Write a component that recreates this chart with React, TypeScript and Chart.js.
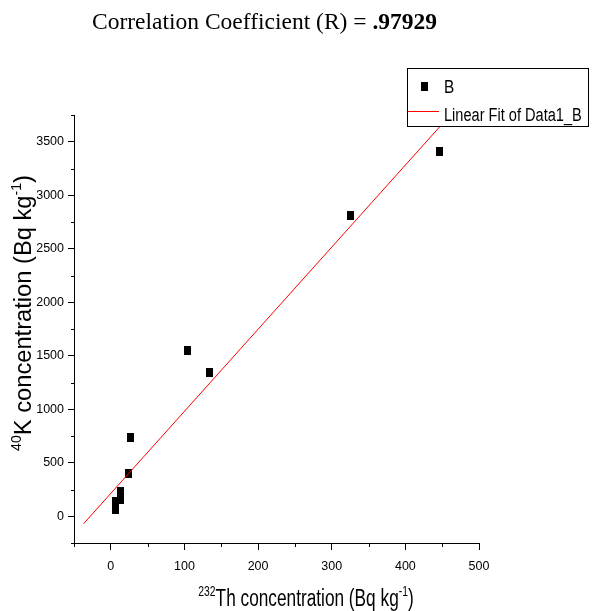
import React, { useEffect, useRef } from 'react';
import { Chart, registerables } from 'chart.js';

Chart.register(...registerables);

// ---- data ----
const thConcentration = [446.7, 326, 103.9, 133.7, 27.1, 23.5, 12.6, 13.6, 5.8, 5.8];
const kConcentration = [3412, 2811, 1549, 1346, 738, 396, 234, 156, 140, 63];
const fitX = [-37, 461];
const fitY = [-70, 3750];
const xMajorTicks = [0, 100, 200, 300, 400, 500];
const xMinorTicks = [-50, 50, 150, 250, 350, 450];
const yMajorTicks = [0, 500, 1000, 1500, 2000, 2500, 3000, 3500];
const yMinorTicks = [-250, 250, 750, 1250, 1750, 2250, 2750, 3250, 3750];
const titleMain = 'Correlation Coefficient (R) = ';
const titleValue = '.97929';
const seriesLabel = 'B';
const fitLabel = 'Linear Fit of Data1_B';

const SANS = "'Liberation Sans', Arial, sans-serif";
const SERIF = "'Liberation Serif', 'Times New Roman', serif";

type Run = { t: string; sup?: boolean; bold?: boolean };

function runsWidth(ctx: CanvasRenderingContext2D, runs: Run[], size: number, family: string) {
  let w = 0;
  for (const r of runs) {
    const s = r.sup ? size * 0.6 : size;
    ctx.font = `${r.bold ? 'bold ' : ''}${s}px ${family}`;
    w += ctx.measureText(r.t).width;
  }
  return w;
}

function drawRuns(
  ctx: CanvasRenderingContext2D,
  runs: Run[],
  x: number,
  y: number,
  size: number,
  family: string,
  scaleX: number,
  align: 'left' | 'center'
) {
  ctx.save();
  ctx.translate(x, y);
  ctx.scale(scaleX, 1);
  const total = runsWidth(ctx, runs, size, family);
  let cx = align === 'center' ? -total / 2 : 0;
  ctx.textBaseline = 'alphabetic';
  ctx.textAlign = 'left';
  ctx.fillStyle = '#000';
  for (const r of runs) {
    const s = r.sup ? size * 0.6 : size;
    ctx.font = `${r.bold ? 'bold ' : ''}${s}px ${family}`;
    ctx.fillText(r.t, cx, r.sup ? -size * 0.42 : 0);
    cx += ctx.measureText(r.t).width;
  }
  ctx.restore();
}

const decorPlugin = {
  id: 'decor',
  afterDraw(chart: any) {
    const ctx: CanvasRenderingContext2D = chart.ctx;
    const xs = chart.scales.x;
    const ys = chart.scales.y;
    const area = chart.chartArea;

    // minor ticks
    ctx.save();
    ctx.strokeStyle = '#000';
    ctx.lineWidth = 1;
    ctx.beginPath();
    for (const v of xMinorTicks) {
      const px = Math.round(xs.getPixelForValue(v)) + 0.5;
      ctx.moveTo(px, area.bottom);
      ctx.lineTo(px, area.bottom + 4);
    }
    for (const v of yMinorTicks) {
      const py = Math.round(ys.getPixelForValue(v)) + 0.5;
      ctx.moveTo(area.left, py);
      ctx.lineTo(area.left - 3, py);
    }
    ctx.stroke();
    ctx.restore();

    // title
    drawRuns(ctx, [{ t: titleMain }, { t: titleValue, bold: true }], 92, 29, 23.5, SERIF, 1, 'left');

    // x axis title
    drawRuns(
      ctx,
      [{ t: '232', sup: true }, { t: 'Th concentration (Bq kg' }, { t: '-1', sup: true }, { t: ')' }],
      306, 606, 23, SANS, 0.75, 'center'
    );

    // y axis title
    ctx.save();
    ctx.translate(31, 313);
    ctx.rotate(-Math.PI / 2);
    drawRuns(
      ctx,
      [{ t: '40', sup: true }, { t: 'K concentration (Bq kg' }, { t: '-1', sup: true }, { t: ')' }],
      0, 0, 23, SANS, 1.03, 'center'
    );
    ctx.restore();

    // legend
    ctx.save();
    ctx.fillStyle = '#fff';
    ctx.fillRect(407, 68, 182, 59);
    ctx.strokeStyle = '#000';
    ctx.lineWidth = 1;
    ctx.strokeRect(407.5, 68.5, 181, 58);
    ctx.fillStyle = '#000';
    ctx.fillRect(421, 82, 7, 9);
    ctx.strokeStyle = '#ff0000';
    ctx.beginPath();
    ctx.moveTo(408, 111.5);
    ctx.lineTo(439, 111.5);
    ctx.stroke();
    ctx.restore();
    drawRuns(ctx, [{ t: seriesLabel }], 444, 93, 19, SANS, 0.81, 'left');
    drawRuns(ctx, [{ t: fitLabel }], 444, 121, 18, SANS, 0.81, 'left');
  },
};

export default function App() {
  const ref = useRef<HTMLCanvasElement | null>(null);

  useEffect(() => {
    if (!ref.current) return;
    const marker = document.createElement('canvas');
    marker.width = 7;
    marker.height = 9;
    const mctx = marker.getContext('2d')!;
    mctx.fillStyle = '#000';
    mctx.fillRect(0, 0, 7, 9);

    const points = thConcentration.map((x, i) => ({ x, y: kConcentration[i] }));
    const fitPoints = fitX.map((x, i) => ({ x, y: fitY[i] }));

    const tickFont = { family: SANS, size: 12.5 };
    const plain = (v: any) => String(v);

    const chart = new Chart(ref.current, {
      type: 'scatter',
      data: {
        datasets: [
          {
            label: fitLabel,
            type: 'line',
            data: fitPoints,
            borderColor: '#ff0000',
            borderWidth: 1,
            pointRadius: 0,
            showLine: true,
            fill: false,
            order: 0,
          } as any,
          {
            label: seriesLabel,
            data: points,
            pointStyle: marker as any,
            pointRadius: 4,
            backgroundColor: '#000',
            borderColor: '#000',
            order: 1,
          },
        ],
      },
      options: {
        responsive: false,
        animation: false,
        devicePixelRatio: 1,
        events: [],
        layout: { padding: { left: 0, top: 115, right: 114, bottom: 0 } },
        plugins: {
          legend: { display: false },
          title: { display: false },
          tooltip: { enabled: false },
        },
        scales: {
          x: {
            type: 'linear',
            min: -50,
            max: 500,
            afterBuildTicks: (s: any) => {
              s.ticks = xMajorTicks.map((v) => ({ value: v }));
            },
            afterFit: (s: any) => {
              s.height = 68;
            },
            border: { display: true, color: '#000', width: 1 },
            grid: { drawOnChartArea: false, drawTicks: true, tickLength: 7, tickColor: '#000' },
            ticks: { color: '#000', font: tickFont, padding: 9, maxRotation: 0, autoSkip: false, callback: plain },
          },
          y: {
            type: 'linear',
            min: -250,
            max: 3750,
            afterBuildTicks: (s: any) => {
              s.ticks = yMajorTicks.map((v) => ({ value: v }));
            },
            afterFit: (s: any) => {
              s.width = 74;
            },
            border: { display: true, color: '#000', width: 1 },
            grid: { drawOnChartArea: false, drawTicks: true, tickLength: 6, tickColor: '#000' },
            ticks: { color: '#000', font: tickFont, padding: 4, autoSkip: false, callback: plain },
          },
        },
      },
      plugins: [decorPlugin],
    });
    return () => chart.destroy();
  }, []);

  return (
    <div style={{ position: 'fixed', left: 0, top: 0, width: 593, height: 611, background: '#fff' }}>
      <canvas ref={ref} width={593} height={611} style={{ width: 593, height: 611, display: 'block' }} />
    </div>
  );
}
